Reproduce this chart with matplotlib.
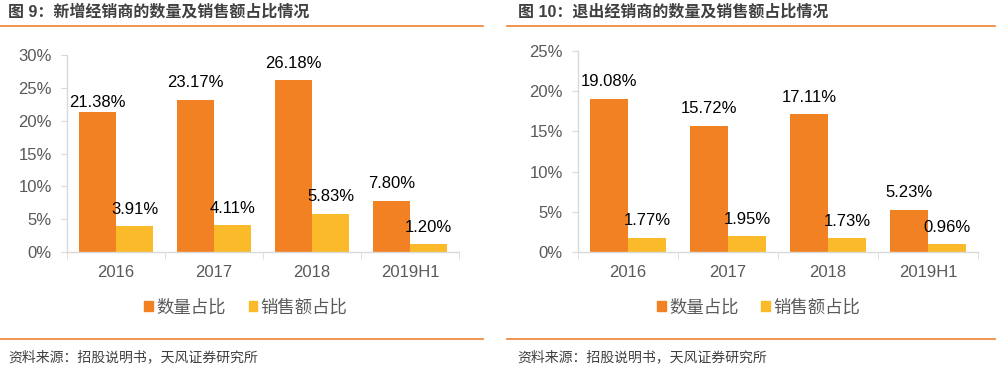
import matplotlib
matplotlib.use("Agg")
import matplotlib.pyplot as plt
from matplotlib.patches import Patch
from matplotlib.lines import Line2D

plt.rcParams['font.family'] = ['Liberation Sans', 'Noto Sans CJK SC']

# data
categories = ['2016', '2017', '2018', '2019H1']
new_count = [21.38, 23.17, 26.18, 7.80]      # 新增经销商 数量占比 (%)
new_sales = [3.91, 4.11, 5.83, 1.20]         # 新增经销商 销售额占比 (%)
exit_count = [19.08, 15.72, 17.11, 5.23]     # 退出经销商 数量占比 (%)
exit_sales = [1.77, 1.95, 1.73, 0.96]        # 退出经销商 销售额占比 (%)
series_names = ['数量占比', '销售额占比']

ORANGE = '#F28123'
YELLOW = '#FBBA2A'
AXIS = '#D9D9D9'
TEXT = '#595959'
LINE = '#EE8232'

fig = plt.figure(figsize=(10.02, 3.69), dpi=100)


def panel(rect, count, sales, ymax, nudge=None):
    ax = fig.add_axes(rect)
    x = list(range(len(categories)))
    w = 0.38
    xo = [i - w / 2 for i in x]
    xy = [i + w / 2 for i in x]
    ax.bar(xo, count, width=w, color=ORANGE)
    ax.bar(xy, sales, width=w, color=YELLOW)
    nudge = nudge or {}
    for i, v in enumerate(count):
        ax.annotate(f'{v:.2f}%', (xo[i], v), xytext=(0, nudge.get(i, 9)),
                    textcoords='offset points', ha='center', va='baseline',
                    fontsize=12, color='black')
    for i, v in enumerate(sales):
        ax.annotate(f'{v:.2f}%', (xy[i], v), xytext=(0, 9),
                    textcoords='offset points', ha='center', va='baseline',
                    fontsize=12, color='black')
    ax.set_xlim(-0.5, len(categories) - 0.5)
    ax.set_ylim(0, ymax)
    yt = list(range(0, ymax + 1, 5))
    ax.set_yticks(yt)
    ax.set_yticklabels([f'{t}%' for t in yt])
    ax.set_xticks(x)
    ax.set_xticklabels(categories)
    ax.set_xticks([i - 0.5 for i in range(len(categories) + 1)], minor=True)
    for s in ['top', 'right']:
        ax.spines[s].set_visible(False)
    for s in ['left', 'bottom']:
        ax.spines[s].set_color(AXIS)
        ax.spines[s].set_linewidth(1)
    ax.tick_params(axis='y', length=4, color=AXIS, pad=7, labelsize=12, labelcolor=TEXT)
    ax.tick_params(axis='x', which='major', length=0, pad=9, labelsize=12, labelcolor=TEXT)
    ax.tick_params(axis='x', which='minor', length=5, color=AXIS)
    return ax


panel([0.0669, 0.317, 0.3912, 0.534], new_count, new_sales, 30, nudge={0: 3})
panel([0.5768, 0.317, 0.3992, 0.545], exit_count, exit_sales, 25)

handles = [Patch(color=ORANGE), Patch(color=YELLOW)]
for cx in [0.2455, 0.757]:
    fig.legend(handles, series_names, loc='center', bbox_to_anchor=(cx, 0.168),
               ncol=2, frameon=False, fontsize=12.5, handlelength=0.5,
               handleheight=0.5, handletextpad=0.2, columnspacing=1.3,
               labelcolor=TEXT)

# titles, rules and source notes
fig.text(0.008, 0.969, '图 9：新增经销商的数量及销售额占比情况', fontsize=11.5,
         fontweight='bold', color='#404040', va='center', ha='left')
fig.text(0.517, 0.969, '图 10：退出经销商的数量及销售额占比情况', fontsize=11.5,
         fontweight='bold', color='#404040', va='center', ha='left')
for x0, x1 in [(0.0, 0.482), (0.506, 0.993)]:
    fig.add_artist(Line2D([x0, x1], [0.9295, 0.9295], color=LINE, lw=1.2))
    fig.add_artist(Line2D([x0, x1], [0.0813, 0.0813], color=LINE, lw=1.2))
fig.text(0.008, 0.0325, '资料来源：招股说明书，天风证券研究所', fontsize=10,
         color='#404040', va='center', ha='left')
fig.text(0.516, 0.0325, '资料来源：招股说明书，天风证券研究所', fontsize=10,
         color='#404040', va='center', ha='left')

fig.savefig('out.png', dpi=100)
